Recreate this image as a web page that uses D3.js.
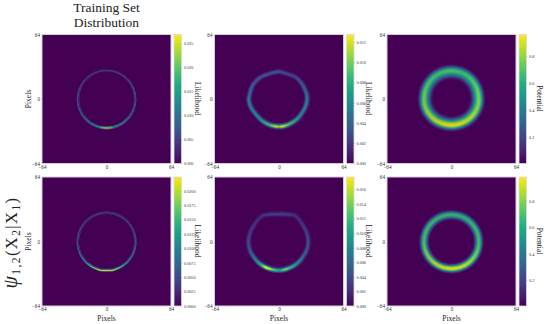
<!DOCTYPE html>
<html>
<head>
<meta charset="utf-8">
<script src="https://cdnjs.cloudflare.com/ajax/libs/d3/7.8.5/d3.min.js"></script>
<style>
    html, body { margin: 0; padding: 0; background: #fff; }
    svg { display: block; }
    text { font-family: "Liberation Serif", serif; fill: #222; }
    .axis path, .axis line { display: none; }
    .tick text { font-size: 5.2px; fill: #333; }
    .cbar .tick text { font-size: 4.2px; }
    .cbar .tick line { display: block; stroke: #888; stroke-width: 0.4; }
</style>
</head>
<body>
<div id="chart"></div>
<script>
// angle of each ring sample, degrees clockwise from the top of the image
var ringAngles = [0,10,20,30,40,50,60,70,80,90,100,110,120,130,
    135,140,145,150,155,160,165,170,175,180,185,190,195,200,205,210,215,220,225,
    230,240,250,260,270,280,290,300,310,320,330,340,350];

var axisTicks = [-64, 0, 64];

// training set likelihood (top row)
var trainTopValues = [.005,.005,.005,.0052,.0052,.0055,.0058,.0062,.0068,.007,.0075,.008,.009,.0105,
    .0115,.0125,.013,.0135,.014,.015,.017,.021,.026,.0268,.026,.021,.017,.015,.014,.0135,.013,.0125,.0115,
    .0105,.009,.008,.0075,.007,.0068,.0062,.0058,.0055,.0052,.0052,.005,.005];
var trainTopRadii = [28.5,28.5,28.5,28.5,28.5,28.5,28.5,28.5,28.5,28.5,28.5,28.5,28.5,28.5,
    28.5,28.5,28.5,28.5,28.5,28.5,28.5,28.5,28.5,28.5,28.5,28.5,28.5,28.5,28.5,28.5,28.5,28.5,28.5,
    28.5,28.5,28.5,28.5,28.5,28.5,28.5,28.5,28.5,28.5,28.5,28.5,28.5];
var trainTopTicks = [0, .005, .01, .015, .02, .025];

// learned likelihood (top row)
var modelTopValues = [.0033,.003,.0028,.0028,.003,.0035,.004,.0046,.0052,.0058,.0063,.0065,.0065,.007,
    .0075,.008,.0085,.009,.0095,.01,.011,.0125,.0127,.0105,.0125,.012,.0105,.0095,.009,.0085,.008,.0075,.007,
    .0065,.0065,.006,.0058,.0052,.0046,.0044,.004,.0037,.0035,.0035,.0033,.0035];
var modelTopRadii = [27.5,26.5,26.5,27,27.5,27.5,27.5,27.5,28,28,27.5,27,26.5,26.5,
    26.5,26.5,26.5,26.5,26.5,26.7,26.8,27,27,27,27,27,27,27,27,27,27,27,27,
    27,27.5,28.5,29.5,30,29.5,29.5,29.5,29,28.5,27.5,27,27];
var modelTopTicks = [0, .002, .004, .006, .008, .01, .012];

// potential (top row)
var potentialTopValues = [.72,.7,.68,.68,.7,.71,.73,.75,.77,.78,.8,.82,.85,.88,
    .89,.9,.91,.92,.93,.94,.95,.955,.96,.96,.96,.955,.95,.94,.93,.92,.91,.9,.89,
    .87,.85,.82,.8,.78,.77,.75,.73,.72,.71,.7,.7,.71];
var potentialTopRadii = [28,28,28,28,27.8,27.6,27.4,27.2,27,27,27,26.8,26.6,26.3,
    26.2,26.1,26,25.8,25.7,25.6,25.5,25.5,25.5,25.5,25.5,25.5,25.5,25.6,25.7,25.8,26,26.1,26.2,
    26.3,26.6,26.8,27,27,27,27.2,27.4,27.6,27.8,28,28,28];
var potentialTicks = [.2, .4, .6, .8];

// training set likelihood (bottom row)
var trainBottomValues = [.0048,.0048,.0048,.0048,.0048,.005,.0053,.0058,.0063,.0068,.0073,.008,.009,.0105,
    .0115,.0125,.014,.0155,.018,.0185,.02,.0215,.0224,.0224,.0224,.0215,.0205,.0195,.019,.0175,.016,.0135,.0125,
    .0115,.0095,.008,.0073,.0068,.0063,.0058,.0053,.005,.0048,.0048,.0048,.0048];
var trainBottomRadii = [28.7,28.7,28.7,28.7,28.7,28.7,28.7,28.7,28.7,28.7,28.7,28.7,28.7,28.7,
    28.7,28.7,28.7,28.7,28.7,28.7,29,28.9,28.6,28.5,28.6,28.9,29,28.7,28.7,28.7,28.7,28.7,28.7,
    28.7,28.7,28.7,28.7,28.7,28.7,28.7,28.7,28.7,28.7,28.7,28.7,28.7];
var trainBottomTicks = [0, .0025, .005, .0075, .01, .0125, .015, .0175, .02];

// learned likelihood (bottom row)
var modelBottomValues = [.0038,.0038,.0035,.0028,.0028,.003,.0035,.0038,.0042,.0047,.0052,.0058,.0065,.0075,
    .0085,.0092,.0102,.011,.012,.0125,.0145,.0135,.0115,.0105,.0115,.013,.0145,.0165,.0177,.0165,.013,.011,.0098,
    .0085,.007,.0058,.0049,.0044,.004,.0035,.0033,.0028,.0028,.0033,.0035,.004];
var modelBottomRadii = [27.5,27.7,28.8,30.5,30,29,28.8,28.8,29,29,29,28.5,28,28,
    28,28,28,28,28,28,28,28.2,28.3,28.3,28.3,28.3,28.3,28.4,28.5,28.6,28.7,28.8,29,
    29,29.3,29.8,30.2,30.3,30.2,30,29.8,29.8,30.5,30.5,28.8,27.8];
var modelBottomTicks = [0, .002, .004, .006, .008, .01, .012, .014, .016];

// potential (bottom row)
var potentialBottomValues = [.7,.69,.68,.68,.69,.7,.71,.72,.72,.73,.75,.78,.81,.85,
    .87,.89,.9,.92,.93,.94,.95,.96,.97,.97,.97,.96,.95,.94,.93,.92,.91,.9,.88,
    .86,.83,.8,.77,.75,.74,.73,.72,.71,.7,.7,.7,.7];
var potentialBottomRadii = [26.8,26.8,26.9,27,27,27.1,27.1,27.2,27.2,27.2,27.2,27.2,27.1,27,
    27,27,26.9,26.9,26.8,26.8,26.8,26.7,26.7,26.7,26.7,26.7,26.8,26.8,26.8,26.9,26.9,27,27,
    27,27.1,27.2,27.2,27.2,27.2,27.2,27.1,27.1,27,27,26.9,26.8];

// cross-section of the ring: offset from the ring radius, and share of the peak value
var thinOffsets = [-1.25, -0.35, 0.35, 1.25];
var thinWeights = [0, 1, 1, 0];
var softOffsets = [-3,-2,-1,-0.5,0.5,1,2,3];
var softWeights = [.04,.3,.8,1,1,.8,.3,.04];
var wideOffsets = [-9,-7,-5,-3,-1,0,1,2,3,4,5,6,7];
var wideWeights = [0,.12,.4,.72,.95,1,.97,.85,.65,.4,.2,.07,0];
var slimOffsets = [-6,-5,-4,-3,-2,-1,0,1,2,3,4,5,6];
var slimWeights = [0,.05,.2,.45,.75,.94,1,.94,.72,.42,.15,.03,0];

var svgWidth = 545, svgHeight = 324;
var rowTops = [34.5, 177];
var colLefts = [42, 214.5, 387];
var panelSize = 129;
var cbarGap = 3, cbarWidth = 7.5;
var gridCells = d3.range(-64, 64);

var panels = [
    {row: 0, col: 0, values: trainTopValues, radii: trainTopRadii, offsets: thinOffsets, weights: thinWeights, blur: 0.15, domain: [0, .0269], ticks: trainTopTicks, format: ".3f", label: "Likelihood", labelX: 197},
    {row: 0, col: 1, values: modelTopValues, radii: modelTopRadii, offsets: softOffsets, weights: softWeights, blur: 0.35, domain: [0, .01275], ticks: modelTopTicks, format: ".3f", label: "Likelihood", labelX: 368},
    {row: 0, col: 2, values: potentialTopValues, radii: potentialTopRadii, offsets: wideOffsets, weights: wideWeights, blur: 0.5, domain: [.005, .96], ticks: potentialTicks, format: ".1f", label: "Potential", labelX: 539},
    {row: 1, col: 0, values: trainBottomValues, radii: trainBottomRadii, offsets: thinOffsets, weights: thinWeights, blur: 0.15, domain: [0, .0224], ticks: trainBottomTicks, format: ".4f", label: "Likelihood", labelX: 197},
    {row: 1, col: 1, values: modelBottomValues, radii: modelBottomRadii, offsets: softOffsets, weights: softWeights, blur: 0.35, domain: [0, .0177], ticks: modelBottomTicks, format: ".3f", label: "Likelihood", labelX: 368},
    {row: 1, col: 2, values: potentialBottomValues, radii: potentialBottomRadii, offsets: slimOffsets, weights: slimWeights, blur: 0.5, domain: [.005, .98], ticks: potentialTicks, format: ".1f", label: "Potential", labelX: 539}
];

var svg = d3.select("#chart").append("svg")
    .attr("width", svgWidth)
    .attr("height", svgHeight);

var defs = svg.append("defs");

// shared viridis gradient for the colorbars
var gradient = defs.append("linearGradient")
    .attr("id", "viridisBar")
    .attr("x1", 0).attr("y1", 1).attr("x2", 0).attr("y2", 0);
gradient.selectAll("stop")
    .data(d3.range(0, 1.001, 0.05))
    .enter().append("stop")
    .attr("offset", function(d) { return d; })
    .attr("stop-color", function(d) { return d3.interpolateViridis(d); });

// wrap the samples round the circle so a scale can look up any angle
function angleScale(samples) {
    return d3.scaleLinear()
        .domain(ringAngles.concat([360]))
        .range(samples.concat([samples[0]]));
}

// heatmap cells of one panel, from the ring samples and the cross-section
function buildCells(p) {
    var valueAt = angleScale(p.values);
    var radiusAt = angleScale(p.radii);
    var sectionAt = d3.scaleLinear().domain(p.offsets).range(p.weights);
    var lo = p.offsets[0], hi = p.offsets[p.offsets.length - 1];
    var cells = [];
    gridCells.forEach(function(gx) {
        gridCells.forEach(function(gy) {
            var cx = gx + 0.5, cy = gy + 0.5;
            var dist = Math.sqrt(cx * cx + cy * cy);
            var angle = (Math.atan2(cx, cy) * 180 / Math.PI + 360) % 360;
            var off = dist - radiusAt(angle);
            if (off < lo || off > hi) return;
            cells.push({gx: gx, gy: gy, value: valueAt(angle) * sectionAt(off)});
        });
    });
    return cells;
}

panels.forEach(function(p, idx) {
    var left = colLefts[p.col], top = rowTops[p.row];

    var x = d3.scaleLinear().domain([-64, 64]).range([left, left + panelSize]);
    var y = d3.scaleLinear().domain([-64, 64]).range([top + panelSize, top]);
    var color = d3.scaleSequential(d3.interpolateViridis).domain(p.domain);

    defs.append("filter")
        .attr("id", "soften" + idx)
        .attr("color-interpolation-filters", "sRGB")
        .append("feGaussianBlur")
        .attr("stdDeviation", p.blur);

    var plot = svg.append("g").attr("filter", "url(#soften" + idx + ")");

    plot.append("rect")
        .attr("x", left).attr("y", top)
        .attr("width", panelSize).attr("height", panelSize)
        .attr("fill", color(p.domain[0]));

    plot.append("g").selectAll("rect")
        .data(buildCells(p))
        .enter().append("rect")
        .attr("x", function(d) { return x(d.gx); })
        .attr("y", function(d) { return y(d.gy + 1); })
        .attr("width", x(1) - x(0) + 0.3)
        .attr("height", y(0) - y(1) + 0.3)
        .attr("fill", function(d) { return color(Math.max(p.domain[0], d.value)); });

    // frame
    svg.append("rect")
        .attr("x", left).attr("y", top)
        .attr("width", panelSize).attr("height", panelSize)
        .attr("fill", "none")
        .attr("stroke", "#d6ccd9")
        .attr("stroke-width", 1);

    // axes
    svg.append("g")
        .attr("class", "axis")
        .attr("transform", "translate(0," + (top + panelSize) + ")")
        .call(d3.axisBottom(x).tickValues(axisTicks).tickSize(0).tickPadding(1.5));
    svg.append("g")
        .attr("class", "axis")
        .attr("transform", "translate(" + left + ",0)")
        .call(d3.axisLeft(y).tickValues(axisTicks).tickSize(0).tickPadding(2));

    // colorbar
    var cbarLeft = left + panelSize + cbarGap;
    var cScale = d3.scaleLinear().domain(p.domain).range([top + panelSize, top]);
    svg.append("rect")
        .attr("x", cbarLeft).attr("y", top)
        .attr("width", cbarWidth).attr("height", panelSize)
        .attr("fill", "url(#viridisBar)")
        .attr("stroke", "#ddd8e0")
        .attr("stroke-width", 0.8);
    svg.append("g")
        .attr("class", "axis cbar")
        .attr("transform", "translate(" + (cbarLeft + cbarWidth) + ",0)")
        .call(d3.axisRight(cScale).tickValues(p.ticks).tickSize(1).tickPadding(1.5).tickFormat(d3.format(p.format)));

    // colorbar label, rotated to read downward
    svg.append("text")
        .attr("transform", "translate(" + p.labelX + "," + (top + panelSize / 2 - 0.5) + ") rotate(90)")
        .attr("text-anchor", "middle")
        .attr("dominant-baseline", "middle")
        .attr("font-size", 7.5)
        .text(p.label);

    if (p.col === 0) {
        svg.append("text")
            .attr("transform", "translate(29," + (top + panelSize / 2) + ") rotate(-90)")
            .attr("text-anchor", "middle")
            .attr("dominant-baseline", "middle")
            .attr("font-size", 7.5)
            .text("Pixels");
    }
    if (p.row === 1) {
        svg.append("text")
            .attr("x", x(0))
            .attr("y", 320.5)
            .attr("text-anchor", "middle")
            .attr("font-size", 7.5)
            .text("Pixels");
    }
});

// title over the first column
var title = svg.append("text")
    .attr("text-anchor", "middle")
    .attr("font-size", 13.5);
title.append("tspan").attr("x", 106.5).attr("y", 12).text("Training Set");
title.append("tspan").attr("x", 106.5).attr("y", 27).text("Distribution");

// row label
var rowLabel = svg.append("text")
    .attr("transform", "translate(17,242.5) rotate(-90)")
    .attr("text-anchor", "middle")
    .attr("font-size", 16.5)
    .attr("letter-spacing", 1.4);
rowLabel.append("tspan").attr("font-style", "italic").attr("font-size", 20).text("\u03C8");
rowLabel.append("tspan").attr("font-size", 11.5).attr("dy", 3).text("1,2");
rowLabel.append("tspan").attr("dy", -3).text("(");
rowLabel.append("tspan").text("X");
rowLabel.append("tspan").attr("font-size", 11.5).attr("dy", 3).text("2");
rowLabel.append("tspan").attr("dy", -3).text("|");
rowLabel.append("tspan").text("X");
rowLabel.append("tspan").attr("font-size", 11.5).attr("dy", 3).text("1");
rowLabel.append("tspan").attr("dy", -3).text(")");
</script>
</body>
</html>
